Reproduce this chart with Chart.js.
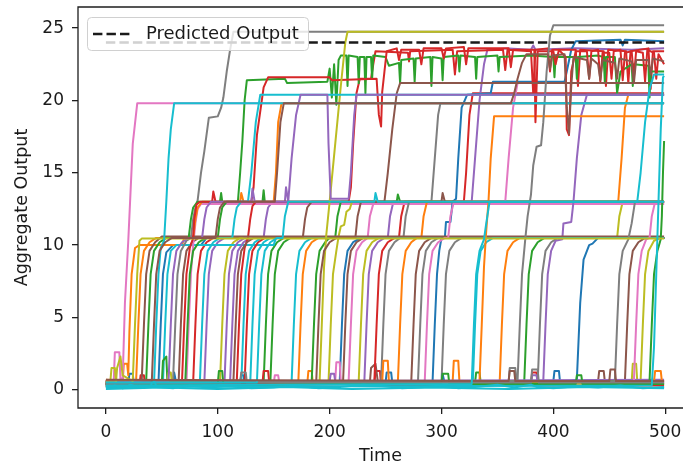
<!DOCTYPE html>
<html>
<head>
<meta charset="utf-8">
<script src="https://cdn.jsdelivr.net/npm/chart.js@4.4.1/dist/chart.umd.min.js"></script>
<style>
  html, body { margin: 0; padding: 0; background: #fff; overflow: hidden; }
  #wrap { width: 683px; height: 469px; }
</style>
</head>
<body>
<div id="wrap"><canvas id="outputChart" width="683" height="469"></canvas></div>
<script>
// axis ticks
var timeTicks = [0, 100, 200, 300, 400, 500];
var outputTicks = [0, 5, 10, 15, 20, 25];

// dashed reference line
var predictedOutput = [[0, 24], [499, 24]];

// every run is a list of [time, aggregate output] points
var blueRuns = [
  [[0,0.5],[20,0.4],[21,1.1],[24,1.1],[25,0.4],[47,0.5],[49,4.5],[51,8],[54,9.5],[60,10],[85,10],[90,10.5],[499,10.5]],
  [[0,0.3],[120,0.5],[121,1],[123,1],[124,0.4],[209,0.5],[211,4.5],[213,8],[216,9.6],[221,10.2],[228,10.5],[499,10.5]],
  [[0,0.6],[250,0.5],[251,1.2],[255,1.2],[256,0.5],[400,0.6],[401,1.3],[405,1.3],[406,0.5],[421,0.7],[424,6],[427,9],[432,10],[435,10.1],[440,10.5],[499,10.5]],
  [[0,0.5],[60,0.3],[61,1.2],[63,0.4],[150,0.5],[300,0.4],[301,1.1],[303,0.4],[499,0.5]],
  [[0,0.4],[292,0.5],[294,4.5],[296,8],[298,9.6],[300,10.5],[303,10.5],[304,11.6],[308,11.6],[310,13],[313,13.2],[315,16],[318,19.5],[323,20.4],[344,20.5],[346,21.3],[410,21.3],[412,22],[416,23.5],[420,24.1],[460,24.2],[462,23.8],[464,24.2],[499,24.1]]
];
var orangeRuns = [
  [[0,0.7],[15,0.6],[16,1.8],[19,1.8],[20,1],[21,4],[23,8],[26,9.8],[30,10],[68,10],[70,10.5],[499,10.5]],
  [[0,0.4],[172,0.5],[174,4.5],[176,8],[179,9.6],[184,10.2],[190,10.5],[499,10.5]],
  [[0,0.4],[352,0.5],[354,4.5],[356,8],[359,9.6],[364,10.2],[370,10.5],[499,10.5]],
  [[0,0.5],[27,0.6],[29,4.5],[31,8],[34,9.6],[39,10.2],[45,10.5],[78,10.5],[80,11.8],[82,12.6],[86,13],[120,13],[121,13.6],[123,13],[150,13],[152,15],[154,18.5],[157,19.8],[499,19.8]],
  [[0,0.3],[180,0.4],[181,1.3],[184,1.3],[185,0.4],[261,0.5],[263,4.5],[265,8],[268,9.6],[273,10.2],[278,10.5],[282,10.5],[284,12],[287,13],[458,13],[461,16],[464,19.5],[467,20.4],[499,20.4]],
  [[0,0.5],[310,0.6],[311,2],[315,2],[316,0.6],[334,0.6],[336,4.5],[338,8.5],[340,11],[342,13],[344,16],[347,18.9],[499,18.9]],
  [[0,0.6],[247,0.5],[248,2],[252,2],[253,0.5],[490,0.6],[491,1.3],[496,1.3],[497,0.6],[499,0.6]]
];
var greenRuns = [
  [[0,0.6],[141,0.5],[143,4.5],[145,8],[148,9.6],[153,10.2],[159,10.5],[499,10.5]],
  [[0,0.3],[147,0.5],[149,4.5],[151,8],[154,9.6],[159,10.2],[165,10.5],[499,10.5]],
  [[0,0.4],[330,0.5],[331,1.2],[334,1.2],[335,0.5],[374,0.6],[376,4.5],[378,8],[381,9.6],[386,10.2],[392,10.5],[499,10.5]],
  [[0,0.4],[50,0.5],[51,2],[54,2.3],[55,0.5],[71,0.6],[73,4.5],[75,8],[78,9.6],[83,10.2],[89,10.5],[100,10.5],[102,11.8],[104,12.6],[108,13],[140,13],[141,13.8],[142,13],[260,13],[261,13.5],[263,13],[499,13]],
  [[0,0.5],[184,0.6],[186,4.5],[188,8],[191,9.6],[196,10.2],[200,10.5],[205,10.5],[207,12],[210,13],[499,13]],
  [[0,0.5],[36,0.6],[38,4.5],[40,8],[43,9.6],[48,10.2],[54,10.5],[74,10.5],[76,11.8],[78,12.6],[82,13],[102,13],[103,13.6],[104,13],[118,13],[120,15],[122,17.2],[124,20],[126,21.4],[160,21.5],[162,21.2],[198,21.3],[200,22.2],[202,20.2],[204,22.5],[206,19.7],[208,22.8],[210,23.1],[215,23.1],[216,21],[217,23.1],[225,23],[226,21.2],[227,23],[231,23],[232,20.5],[233,23],[237,23],[238,21.5],[239,23.1],[250,23],[253,22.4],[262,22.6],[263,21.2],[264,22.8],[275,22.9],[276,21.3],[277,22.9],[290,23],[291,21],[292,23],[300,22.9],[301,21.4],[302,23],[315,23.1],[316,22],[317,23.1],[330,23],[331,21.5],[332,23],[350,23.1],[351,22],[352,23],[380,23.1],[400,23],[401,21.6],[402,23],[420,23],[421,21.5],[422,23],[440,23.1],[445,23],[446,21.3],[447,23],[455,23],[457,20.5],[460,22],[470,22.5],[471,21],[472,22.5],[485,22.4],[486,20.2],[487,22],[499,22]],
  [[0,0.5],[486,0.6],[488,4.5],[490,8],[493,9.6],[496,10.4],[497,12],[498,15],[499,17.2]],
  [[0,0.3],[100,0.4],[101,1.3],[104,1.3],[105,0.3],[300,0.5],[301,1.1],[306,1.1],[307,0.4],[420,0.4],[421,1],[425,1],[426,0.4],[499,0.4]]
];
var redRuns = [
  [[0,0.3],[78,0.5],[80,4.5],[82,8],[85,9.6],[90,10.2],[96,10.5],[499,10.5]],
  [[0,0.4],[124,0.5],[126,4.5],[128,8],[131,9.6],[136,10.2],[142,10.5],[499,10.5]],
  [[0,0.2],[30,0.3],[31,1],[34,1],[35,0.3],[240,0.4],[241,1.3],[245,1.3],[246,0.3],[380,0.4],[381,1.2],[385,1.2],[386,0.3],[499,0.3]],
  [[0,0.4],[140,0.5],[141,1.3],[145,1.3],[146,0.5],[240,0.6],[242,4.5],[244,8],[247,9.6],[252,10.2],[258,10.5],[262,10.5],[264,12],[267,13],[320,13],[322,15],[325,19],[328,20.5],[499,20.5]],
  [[0,0.5],[117,0.6],[119,4.5],[121,8],[124,9.8],[127,10.5],[129,11.8],[131,12.7],[134,13],[217,13],[219,14],[221,17],[224,20.5],[227,21.5],[237,21.5],[239,22.5],[241,23.4],[270,23.3],[271,22.7],[272,23.4],[310,23.5],[312,21.8],[314,23.4],[355,23.5],[357,22.1],[359,23.5],[380,23.4],[382,20.5],[384,23.5],[395,23.6],[397,22],[399,23.5],[420,23.5],[422,21],[424,23.5],[445,23.4],[447,21],[449,23.5],[465,23.4],[467,21.2],[469,23.4],[485,23.6],[487,20.8],[489,23.4],[499,23.4]],
  [[0,0.4],[68,0.5],[70,4.5],[72,8],[75,9.8],[78,10.5],[79,11.8],[81,12.8],[84,13],[95,13],[96,13.7],[98,13],[130,13],[132,14],[135,17.6],[141,20.9],[145,21.6],[200,21.6],[202,21.4],[242,21.5],[244,19],[246,18.2],[247,20.6],[249,22],[251,23.4],[260,23.6],[262,22.8],[264,23.5],[280,23.5],[282,22.5],[284,23.6],[300,23.6],[302,22.9],[304,23.6],[320,23.7],[322,22.5],[324,23.6],[345,23.6],[360,23.6],[362,22.3],[364,23.5],[383,23.5],[384,18.5],[386,23.4],[400,23.4],[402,22.5],[405,23.5],[411,23],[412,18],[414,17.6],[416,22],[420,23.4],[430,23.4],[432,21.5],[434,23.4],[440,23.5],[442,21.3],[444,23.3],[450,23.3],[452,21.5],[454,23.4],[460,23.5],[462,21.4],[464,23.3],[470,23.4],[472,21.6],[474,23.4],[480,23.3],[482,21.3],[484,23.5],[490,23.3],[492,21.5],[494,23.2],[499,22.5]]
];
var purpleRuns = [
  [[0,0.6],[88,0.5],[90,4.5],[92,8],[95,9.6],[100,10.2],[106,10.5],[499,10.5]],
  [[0,0.5],[111,0.5],[113,4.5],[115,8],[118,9.6],[123,10.2],[129,10.5],[499,10.5]],
  [[0,0.4],[106,0.5],[108,4.5],[110,8],[113,9.6],[118,10.2],[124,10.5],[141,10.5],[143,11.8],[145,12.6],[149,13],[160,13],[161,14],[163,13],[499,13]],
  [[0,0.3],[231,0.5],[233,4.5],[235,8],[238,9.6],[243,10.2],[249,10.5],[252,10.5],[254,12],[257,13],[327,13],[330,16],[334,20],[338,22.5],[341,23.5],[360,23.6],[380,23.5],[382,23.8],[384,23.5],[420,23.6],[470,23.5],[499,23.6]],
  [[0,0.5],[380,0.4],[381,1],[385,1],[386,0.5],[391,0.6],[393,4.5],[395,8],[398,9.6],[402,10.3],[408,10.4],[409,11.5],[416,11.6],[418,13],[421,16],[425,19],[430,20.4],[499,20.4]],
  [[0,0.6],[200,0.6],[201,1.1],[204,1.1],[205,0.6],[499,0.7]],
  [[0,0.5],[56,0.6],[58,4.5],[60,8],[63,9.6],[68,10.2],[74,10.5],[86,10.5],[88,11.8],[90,12.6],[94,13],[130,13],[131,13.9],[133,13],[163,13],[166,16],[170,19],[174,20.4],[198,20.4],[199,17],[201,13.2],[217,13.2],[219,15],[222,19],[224,20.4],[499,20.4]]
];
var brownRuns = [
  [[0,0.3],[65,0.5],[67,4.5],[69,8],[72,9.6],[77,10.2],[83,10.5],[499,10.5]],
  [[0,0.5],[212,0.5],[214,4.5],[216,8],[219,9.6],[224,10.2],[230,10.5],[499,10.5]],
  [[0,0.4],[236,0.5],[237,1.5],[241,1.8],[243,0.6],[273,0.6],[275,4.5],[277,8],[280,9.6],[285,10.2],[291,10.5],[499,10.5]],
  [[0,0.5],[440,0.6],[441,1.3],[445,1.3],[446,0.6],[464,0.6],[466,4.5],[468,8],[471,9.6],[476,10.2],[482,10.5],[499,10.5]],
  [[0,0.6],[32,0.6],[34,4.5],[36,8],[39,9.6],[44,10.2],[50,10.6],[499,10.6]],
  [[0,0.5],[114,0.6],[116,4.5],[118,8],[121,9.6],[126,10.2],[132,10.5],[176,10.5],[178,11.8],[180,12.6],[184,13],[249,13],[252,15],[256,18],[260,20.5],[263,21.2],[499,21.2]],
  [[0,0.4],[188,0.5],[190,4.5],[192,8],[195,9.6],[200,10.2],[206,10.5],[223,10.5],[225,12],[228,13],[300,13],[301,13.6],[303,13],[499,13]],
  [[0,0.4],[41,0.5],[43,4.5],[45,8],[48,9.6],[53,10.2],[59,10.5],[98,10.5],[100,11.8],[102,12.6],[106,13],[151,13],[153,15],[156,18.5],[159,19.8],[362,19.8],[365,20.5],[368,21.5],[372,22.6],[376,23.2],[395,23.2],[397,22.2],[399,23.1],[410,23.2],[412,19.5],[414,17.7],[416,21],[418,23],[430,22.8],[432,21.5],[434,22.9],[440,22.5],[442,21.4],[444,22.8],[455,22.6],[457,21.5],[459,22.9],[470,22.7],[472,21.2],[474,22.8],[485,22.8],[487,21.8],[489,22.9],[499,22.7]],
  [[0,0.7],[360,0.6],[361,1.3],[365,1.3],[366,0.6],[450,0.6],[451,1.4],[455,1.4],[456,0.6],[499,0.6]]
];
var pinkRuns = [
  [[0,0.5],[150,0.4],[151,1],[154,1],[155,0.5],[499,0.5]],
  [[0,0.6],[7,0.6],[8,2.6],[12,2.6],[13,0.7],[15,0.8],[17,6],[20,10.3],[24,17],[28,19.8],[499,19.8]],
  [[0,0.4],[72,0.5],[74,4.5],[76,8],[78,10],[80,11.5],[82,12.5],[85,12.85],[499,12.85]],
  [[0,0.5],[205,0.6],[206,1.9],[209,1.9],[210,0.6],[217,0.6],[219,4.5],[221,8],[224,9.6],[229,10.2],[234,10.5],[236,12],[239,12.85],[499,12.85]],
  [[0,0.4],[285,0.5],[287,4.5],[289,8],[292,9.6],[297,10.2],[303,10.5],[306,10.5],[308,12],[311,13],[357,13],[360,16],[364,19.5],[368,21.2],[499,21.2]],
  [[0,0.6],[472,0.6],[474,4.5],[476,8],[479,9.6],[483,10.4],[486,10.5],[488,12],[491,13],[499,13]]
];
var grayRuns = [
  [[0,0.5],[279,0.6],[281,4.5],[283,8],[286,9.6],[291,10.2],[297,10.5],[499,10.5]],
  [[0,0.3],[300,0.5],[302,4.5],[304,8],[307,9.6],[312,10.2],[318,10.5],[499,10.5]],
  [[0,0.4],[386,0.5],[388,4.5],[390,8],[393,9.6],[398,10.2],[404,10.5],[499,10.5]],
  [[0,0.4],[246,0.5],[248,4.5],[250,8],[253,9.6],[258,10.2],[263,10.5],[266,10.5],[268,12],[271,13],[291,13],[294,16],[297,19],[299,19.8],[499,19.8]],
  [[0,0.5],[60,0.6],[62,4.5],[64,8],[67,9.6],[72,10.3],[76,10.5],[78,11.8],[80,12.6],[82,13.1],[85,15],[88,16.5],[92,18.8],[100,18.9],[103,19.5],[105,20.2],[108,22],[111,23.5],[114,24.75],[499,24.75]],
  [[0,0.6],[360,0.5],[361,1.5],[366,1.5],[367,0.6],[368,0.6],[370,4.5],[372,8],[375,10.5],[377,12],[380,13.5],[382,15.5],[385,16.8],[389,16.9],[391,18.5],[394,22],[397,24.5],[400,25.2],[499,25.2]],
  [[0,0.5],[455,0.6],[457,4.5],[459,8],[462,9.6],[467,10.4],[470,11.5],[473,13],[499,13]],
  [[0,0.4],[120,0.5],[121,1.2],[125,1.2],[126,0.5],[380,0.5],[381,1.4],[386,1.4],[387,0.5],[499,0.5]]
];
var oliveRuns = [
  [[0,0.3],[102,0.5],[104,4.5],[106,8],[109,9.6],[114,10.2],[120,10.5],[457,10.5],[459,12],[462,13],[499,13]],
  [[0,0.6],[226,0.6],[228,4.5],[230,8],[233,9.6],[238,10.2],[244,10.5],[499,10.5]],
  [[0,0.4],[470,0.5],[471,1.8],[474,1.8],[475,0.6],[478,0.6],[480,4.5],[482,8],[485,9.6],[490,10.3],[496,10.5],[499,10.5]],
  [[0,0.5],[199,0.5],[201,4.5],[203,8],[206,9.6],[208,10.6],[210,11.3],[213,11.4],[215,12.3],[218,12.5],[220,13],[499,13]],
  [[0,0.5],[4,0.6],[5,1.5],[8,1.5],[9,0.5],[55,0.5],[56,1.2],[58,1.2],[59,0.5],[499,0.4]],
  [[0,0.4],[191,0.5],[193,4.5],[195,8.5],[197,10.7],[200,13],[205,17],[210,21],[214,24],[216,24.75],[499,24.75]],
  [[0,0.5],[9,0.5],[10,1.5],[13,2.3],[15,1],[24,0.6],[26,4.5],[28,8],[30,10.3],[32,10.45],[499,10.45]]
];
var cyanRuns = [
  [[0,0.4],[51,0.5],[53,4.5],[55,8],[58,9.6],[63,10],[150,10],[152,10.5],[499,10.5]],
  [[0,0.2],[121,0.4],[123,4.5],[125,8],[128,9.6],[133,10.2],[139,10.5],[499,10.5]],
  [[0,0.3],[129,0.4],[131,4.5],[133,8],[136,9.6],[141,10.2],[147,10.5],[499,10.5]],
  [[0,0.4],[166,0.5],[168,4.5],[170,8],[173,9.6],[178,10.2],[184,10.5],[499,10.5]],
  [[0,0.5],[328,0.5],[330,4.5],[332,8],[335,9.6],[340,10.2],[346,10.5],[499,10.5]],
  [[0,0.5],[84,0.5],[86,4.5],[88,8],[91,9.6],[96,10.2],[102,10.5],[113,10.5],[115,11.8],[117,12.6],[121,13],[127,13],[130,15],[134,18.5],[138,20.4],[499,20.4]],
  [[0,0.3],[43,0.4],[45,4.5],[47,8],[49,9.8],[52,10.3],[54,13],[56,16],[58,18],[61,19.8],[499,19.8]],
  [[0,0.5],[135,0.5],[137,4.5],[139,8],[142,9.6],[147,10.2],[153,10.5],[158,10.5],[160,12],[163,13],[240,13],[241,13.6],[243,13],[499,13]],
  [[0,0.3],[327,0.4],[329,4.5],[331,8],[334,9.6],[338,10.4],[340,11.5],[343,13],[475,13],[478,15],[482,18.5],[486,20.8],[490,21.8],[499,21.8]],
  [[0,0.2],[488,0.3],[490,3],[492,8],[494,13],[496,18],[498,21.6],[499,21.7]],
  [[0,0.15],[8,0.3],[15,0.1],[22,0.35],[30,0.15],[40,0.2],[41,0.5],[44,0.5],[45,0.2],[60,0.1],[75,0.3],[90,0.15],[110,0.25],[130,0.1],[150,0.15],[170,0.3],[190,0.1],[210,0.2],[230,0.35],[250,0.25],[265,0.1],[280,0.15],[300,0.3],[315,0.1],[330,0.2],[350,0.35],[365,0.15],[380,0.35],[385,0.2],[400,0.1],[420,0.25],[440,0.15],[460,0.3],[480,0.1],[499,0.2]],
  [[0,0.05],[50,0.15],[100,0.05],[160,0.2],[220,0.05],[290,0.15],[360,0.05],[430,0.2],[499,0.1]]
];

// matplotlib tab10 cycle
var colorCycle = [
  ["#1f77b4", blueRuns],
  ["#ff7f0e", orangeRuns],
  ["#2ca02c", greenRuns],
  ["#d62728", redRuns],
  ["#9467bd", purpleRuns],
  ["#8c564b", brownRuns],
  ["#e377c2", pinkRuns],
  ["#7f7f7f", grayRuns],
  ["#bcbd22", oliveRuns],
  ["#17becf", cyanRuns]
];

function toPoints(run) {
  return run.map(function (p) {
    return { x: p[0], y: p[1] };
  });
}

// plot in matplotlib order, later runs end up on top
var plotted = [];
for (var i = 0; i < 12; i++) {
  colorCycle.forEach(function (c) {
    var run = c[1][i];
    if (run) {
      plotted.push({
        data: toPoints(run),
        borderColor: c[0],
        borderWidth: 2,
        pointRadius: 0,
        tension: 0,
        borderJoinStyle: "round",
        fill: false,
      });
    }
  });
}

// chart.js paints dataset 0 last, so flip the list
var datasets = plotted.reverse();
datasets.unshift({
  data: toPoints(predictedOutput),
  borderColor: "#1a1a1a",
  borderWidth: 2.5,
  borderDash: [9.4, 4.1],
  pointRadius: 0,
  fill: false,
});

var tickFont = { family: "DejaVu Sans", size: 17 };

var framePlugin = {
  id: "frame",
  afterDraw: function (chart) {
    var ctx = chart.ctx;
    var a = chart.chartArea;
    // left, top and bottom spines (right spine falls outside the picture)
    ctx.save();
    ctx.strokeStyle = "#1e1e1e";
    ctx.lineWidth = 1.3;
    ctx.beginPath();
    ctx.moveTo(a.right + 2, a.top);
    ctx.lineTo(a.left, a.top);
    ctx.lineTo(a.left, a.bottom);
    ctx.lineTo(a.right + 2, a.bottom);
    ctx.stroke();

    // legend box, upper left
    var x = 87.5, y = 17.5, w = 221, h = 33, r = 4;
    ctx.beginPath();
    ctx.moveTo(x + r, y);
    ctx.lineTo(x + w - r, y);
    ctx.arcTo(x + w, y, x + w, y + r, r);
    ctx.lineTo(x + w, y + h - r);
    ctx.arcTo(x + w, y + h, x + w - r, y + h, r);
    ctx.lineTo(x + r, y + h);
    ctx.arcTo(x, y + h, x, y + h - r, r);
    ctx.lineTo(x, y + r);
    ctx.arcTo(x, y, x + r, y, r);
    ctx.closePath();
    ctx.fillStyle = "rgba(255,255,255,0.8)";
    ctx.fill();
    ctx.strokeStyle = "#d0d0d0";
    ctx.lineWidth = 1;
    ctx.stroke();

    ctx.beginPath();
    ctx.setLineDash([9.4, 4.1]);
    ctx.strokeStyle = "#1a1a1a";
    ctx.lineWidth = 2.5;
    ctx.moveTo(93, 34);
    ctx.lineTo(132, 34);
    ctx.stroke();
    ctx.setLineDash([]);

    ctx.font = "18px 'DejaVu Sans'";
    ctx.fillStyle = "#1a1a1a";
    ctx.textBaseline = "middle";
    ctx.fillText("Predicted Output", 146, 34);
    ctx.restore();
  },
};

var ctx = document.getElementById("outputChart").getContext("2d");
var myChart = new Chart(ctx, {
  type: "line",
  data: { datasets: datasets },
  options: {
    responsive: false,
    animation: false,
    devicePixelRatio: 1,
    layout: { padding: { top: 7, right: 0, bottom: 0, left: 0 } },
    plugins: {
      legend: { display: false },
      tooltip: { enabled: false },
    },
    scales: {
      x: {
        type: "linear",
        min: -24.95,
        max: 515.9,
        afterBuildTicks: function (axis) {
          axis.ticks = timeTicks.map(function (v) {
            return { value: v };
          });
        },
        afterFit: function (axis) {
          axis.height = 61;
          axis.paddingLeft = 0;
          axis.paddingRight = 0;
        },
        ticks: { font: tickFont, color: "#1a1a1a", padding: 8, autoSkip: false, maxRotation: 0 },
        grid: { drawOnChartArea: false, drawTicks: true, tickLength: 6, color: "#1e1e1e", lineWidth: 1.3 },
        border: { display: false },
        title: {
          display: true,
          text: "Time",
          font: { family: "DejaVu Sans", size: 17.5 },
          color: "#1a1a1a",
          padding: { top: 0, bottom: 2 },
        },
      },
      y: {
        type: "linear",
        min: -1.26,
        max: 26.46,
        afterBuildTicks: function (axis) {
          axis.ticks = outputTicks.map(function (v) {
            return { value: v };
          });
        },
        afterFit: function (axis) {
          axis.width = 78;
          axis.paddingTop = 0;
          axis.paddingBottom = 0;
        },
        ticks: { font: tickFont, color: "#1a1a1a", padding: 8, autoSkip: false },
        grid: { drawOnChartArea: false, drawTicks: true, tickLength: 6, color: "#1e1e1e", lineWidth: 1.3 },
        border: { display: false },
        title: {
          display: true,
          text: "Aggregate Output",
          font: { family: "DejaVu Sans", size: 17.5 },
          color: "#1a1a1a",
          padding: { top: 12, bottom: 0 },
        },
      },
    },
  },
  plugins: [framePlugin],
});
</script>
</body>
</html>
